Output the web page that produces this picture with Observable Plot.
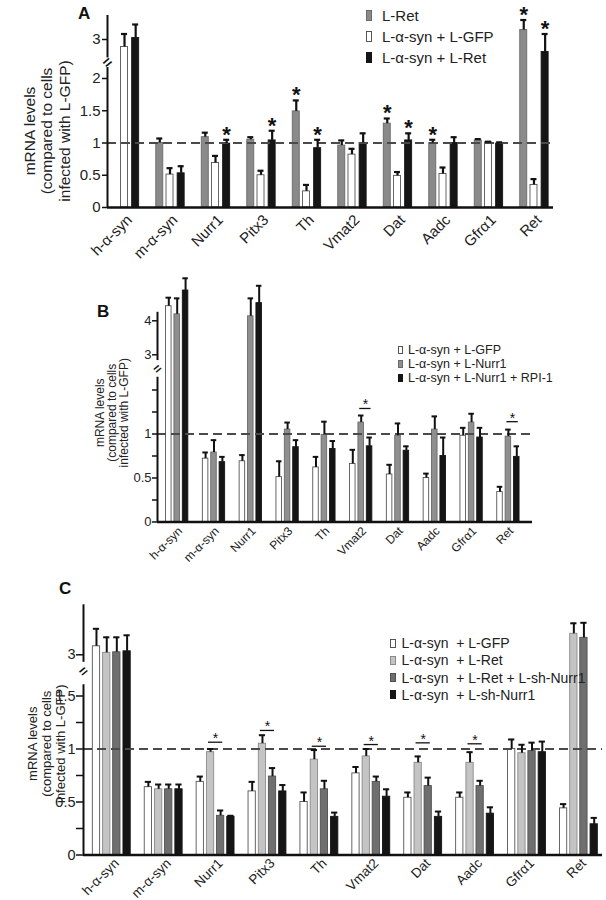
<!DOCTYPE html>
<html><head><meta charset="utf-8">
<script src="https://cdn.jsdelivr.net/npm/d3@7"></script>
<script src="https://cdn.jsdelivr.net/npm/@observablehq/plot@0.6"></script>
<style>
body{margin:0;background:#fff;font-family:"Liberation Sans",Arial,sans-serif;}
#root{position:relative;width:606px;height:900px;overflow:hidden;background:#fff;}
.panel{position:absolute;left:0;}
.panel svg{overflow:visible;}
.letter{position:absolute;font-weight:bold;line-height:1;color:#111;}
.legend{position:absolute;color:#222;white-space:pre;}
.legend .row{display:flex;align-items:center;}
.legend .sw{display:inline-block;box-sizing:border-box;}
</style></head><body><div id="root"></div>
<script>
const genes = ["h-α-syn","m-α-syn","Nurr1","Pitx3","Th","Vmat2","Dat","Aadc","Gfrα1","Ret"];
const yLabel = "mRNA levels\n(compared to cells\ninfected with L-GFP)";

// ---------- Panel A ----------
const seriesA = ["L-Ret", "L-α-syn + L-GFP", "L-α-syn + L-Ret"];
const aRetMean    = [null, 1.00, 1.09, 1.05, 1.49, 0.96, 1.30, 1.00, 1.04, 3.19];
const aRetSem     = [null, 0.07, 0.07, 0.04, 0.17, 0.08, 0.08, 0.05, 0.02, 0.20];
const aGfpMean    = [2.85, 0.51, 0.69, 0.50, 0.25, 0.82, 0.49, 0.52, 1.01, 0.35];
const aGfpSem     = [0.26, 0.10, 0.11, 0.07, 0.10, 0.09, 0.06, 0.10, 0.01, 0.09];
const aSynRetMean = [3.03, 0.53, 0.99, 1.04, 0.92, 1.00, 1.04, 1.00, 0.99, 2.75];
const aSynRetSem  = [0.27, 0.11, 0.06, 0.15, 0.13, 0.15, 0.11, 0.09, 0.02, 0.36];
const aStarsRet    = ["Th","Dat","Aadc","Ret"];
const aStarsSynRet = ["Nurr1","Pitx3","Th","Dat","Ret"];
const aTicks = [0, 0.5, 1, 1.5, 2, 3];

// ---------- Panel B ----------
const seriesB = ["L-α-syn + L-GFP", "L-α-syn + L-Nurr1", "L-α-syn + L-Nurr1 + RPI-1"];
const bGfpMean   = [4.43, 0.72, 0.69, 0.51, 0.62, 0.66, 0.54, 0.50, 0.98, 0.34];
const bGfpSem    = [0.25, 0.07, 0.07, 0.18, 0.12, 0.16, 0.11, 0.05, 0.09, 0.06];
const bNurrMean  = [4.19, 0.79, 4.13, 1.05, 0.99, 1.13, 0.98, 1.05, 1.13, 0.97];
const bNurrSem   = [0.47, 0.14, 0.53, 0.08, 0.15, 0.08, 0.14, 0.15, 0.10, 0.08];
const bRpiMean   = [4.89, 0.68, 4.52, 0.85, 0.83, 0.86, 0.81, 0.75, 0.96, 0.74];
const bRpiSem    = [0.36, 0.06, 0.51, 0.08, 0.09, 0.10, 0.05, 0.21, 0.11, 0.12];
const bSigGenes  = ["Vmat2","Ret"];
const bSigLevel  = [1.29, 1.14];
const bTicks = [0, 0.5, 1, 3, 4];
const bMinor = [0.25, 0.75, 1.25, 1.5];

// ---------- Panel C ----------
const seriesC = ["L-α-syn  + L-GFP", "L-α-syn  + L-Ret", "L-α-syn  + L-Ret + L-sh-Nurr1", "L-α-syn  + L-sh-Nurr1"];
const cGfpMean    = [3.17, 0.64, 0.69, 0.60, 0.50, 0.77, 0.54, 0.54, 1.00, 0.44];
const cGfpSem     = [0.35, 0.05, 0.05, 0.09, 0.09, 0.06, 0.05, 0.05, 0.09, 0.04];
const cRetMean    = [3.04, 0.62, 0.97, 1.05, 0.90, 0.93, 0.87, 0.87, 0.96, 3.42];
const cRetSem     = [0.31, 0.045, 0.03, 0.08, 0.09, 0.07, 0.06, 0.10, 0.08, 0.21];
const cRetShMean  = [3.05, 0.62, 0.37, 0.74, 0.62, 0.69, 0.65, 0.65, 0.98, 3.34];
const cRetShSem   = [0.30, 0.045, 0.05, 0.08, 0.08, 0.05, 0.08, 0.05, 0.08, 0.30];
const cShMean     = [3.07, 0.62, 0.36, 0.60, 0.36, 0.55, 0.36, 0.39, 0.97, 0.29];
const cShSem      = [0.32, 0.045, 0.01, 0.06, 0.04, 0.07, 0.05, 0.06, 0.10, 0.06];
const cSigGenes = ["Nurr1","Pitx3","Th","Vmat2","Dat","Aadc"];
const cSigLevel = [1.064, 1.175, 1.026, 1.042, 1.058, 1.049];
const cTicks = [0, 0.5, 1, 1.5, 3];
const cMinor = [0.25, 0.75, 1.25];

const FONT = "Liberation Sans, Arial, sans-serif";
const root = document.getElementById("root");

function panel(cfg) {
  const rows = [];
  cfg.means.forEach((m, k) => m.forEach((v, i) => {
    if (v == null) return;
    rows.push({i, k, x: i + cfg.offsets[k], v, top: v + cfg.sems[k][i]});
  }));
  const hw = cfg.barWidth / 2;
  const x0 = cfg.xDomain[0];
  const errs = rows.filter(d => d.top > d.v);
  const marks = [
    Plot.rectY(rows, {x1: d => d.x - hw, x2: d => d.x + hw, y1: 0, y2: "v",
      fill: d => cfg.fills[d.k], stroke: d => cfg.strokes[d.k], strokeWidth: 0.9}),
    Plot.ruleY([1], {stroke: "#4a4a4a", strokeWidth: 2, strokeDasharray: "9,5"}),
    Plot.ruleX(errs, {x: "x", y1: "v", y2: "top", stroke: "#111", strokeWidth: cfg.errW}),
    Plot.ruleY(errs, {y: "top", x1: d => d.x - cfg.cap, x2: d => d.x + cfg.cap, stroke: "#111", strokeWidth: cfg.errW}),
    Plot.ruleY([0], {stroke: "#111", strokeWidth: 2.5}),
    Plot.ruleX(cfg.axisSegs, {x: () => x0, y1: d => d[0], y2: d => d[1], stroke: "#111", strokeWidth: 2}),
    Plot.text([cfg.breakAt], {x: () => x0, y: d => d, text: () => "=", rotate: -40, fontSize: cfg.breakFont, fontWeight: "bold", fill: "#111"}),
    Plot.text([yLabel], {frameAnchor: "left", text: d => d, rotate: -90, textAnchor: "middle", lineAnchor: "middle",
      dx: cfg.ylabelDx, dy: cfg.ylabelDy, fontSize: cfg.ylabelFont, lineHeight: cfg.ylabelLH, fill: "#222"}),
    Plot.axisY({ticks: cfg.ticks, tickSize: cfg.tickSize, tickPadding: cfg.tickPadding, fontSize: cfg.tickFont,
      tickFormat: d => String(d), label: null, stroke: "#111", strokeWidth: 1.5, fill: "#222"}),
    Plot.text(genes, {x: (d, i) => i, y: () => 0, text: d => d, rotate: -45, textAnchor: "end",
      fontSize: cfg.labelFont, dx: cfg.labelDx, dy: cfg.labelDy, fill: "#222"})
  ];
  if (cfg.minor) marks.push(Plot.axisY({ticks: cfg.minor, tickSize: cfg.tickSize, tickFormat: () => "", label: null, stroke: "#111", strokeWidth: 1.5}));
  if (cfg.stars) {
    const starRows = [];
    cfg.stars.forEach(({k, list}) => list.forEach(g => {
      const r = rows.find(d => d.k === k && d.i === genes.indexOf(g));
      if (r) starRows.push(r);
    }));
    marks.push(Plot.text(starRows, {x: "x", y: "top", text: () => "*", fontSize: cfg.starFont, fontWeight: "bold", lineAnchor: "bottom", dy: cfg.starDy, fill: "#111"}));
  }
  if (cfg.sig) {
    const sigRows = cfg.sig.genes.map((g, j) => {
      const i = genes.indexOf(g);
      return {y: cfg.sig.levels[j], xa: i + cfg.offsets[cfg.sig.pair[0]], xb: i + cfg.offsets[cfg.sig.pair[1]]};
    });
    marks.push(Plot.ruleY(sigRows, {y: "y", x1: d => d.xa - 0.04, x2: d => d.xb + 0.04, stroke: "#111", strokeWidth: 1.3}));
    marks.push(Plot.text(sigRows, {x: d => (d.xa + d.xb) / 2, y: "y", text: () => "*", fontSize: cfg.sigFont, lineAnchor: "bottom", dy: cfg.sigDy, fill: "#111"}));
  }
  const svg = Plot.plot({
    width: 606, height: cfg.height,
    marginLeft: cfg.marginLeft, marginRight: cfg.marginRight, marginTop: cfg.marginTop, marginBottom: cfg.marginBottom,
    x: {type: "linear", domain: cfg.xDomain, axis: null},
    y: {type: "linear", domain: cfg.yDomain, range: cfg.yRange, axis: null, label: null},
    color: {type: "identity"},
    style: {fontFamily: FONT, background: "transparent", overflow: "visible"},
    marks
  });
  const div = document.createElement("div");
  div.className = "panel";
  div.style.top = cfg.top + "px";
  div.appendChild(svg);
  root.appendChild(div);
}

function letter(t, left, top, size) {
  const d = document.createElement("div");
  d.className = "letter";
  d.textContent = t;
  d.style.left = left + "px"; d.style.top = top + "px"; d.style.fontSize = size + "px";
  root.appendChild(d);
}

function legend(o) {
  const box = document.createElement("div");
  box.className = "legend";
  box.style.left = o.left + "px"; box.style.top = o.top + "px"; box.style.fontSize = o.font + "px";
  o.labels.forEach((lab, k) => {
    const row = document.createElement("div");
    row.className = "row";
    row.style.height = o.rowH + "px";
    const sw = document.createElement("span");
    sw.className = "sw";
    sw.style.width = o.swW + "px"; sw.style.height = o.swH + "px";
    sw.style.background = o.fills[k];
    sw.style.border = "1px solid " + o.strokes[k];
    sw.style.marginRight = o.gap + "px";
    const tx = document.createElement("span");
    tx.textContent = lab;
    row.appendChild(sw); row.appendChild(tx);
    box.appendChild(row);
  });
  root.appendChild(box);
}

// Panel A
const fillsA = ["#8a8a8a", "#ffffff", "#151515"];
const strokesA = ["#6a6a6a", "#555555", "#151515"];
panel({
  top: 0, height: 240, marginLeft: 107, marginRight: 53, marginTop: 14, marginBottom: 33,
  xDomain: [-0.374, 9.429], yDomain: [0, 2.2, 2.6, 3.5], yRange: [207, 65.1, 59, 14],
  means: [aRetMean, aGfpMean, aSynRetMean], sems: [aRetSem, aGfpSem, aSynRetSem],
  offsets: [-0.225, 0, 0.245], barWidth: 0.154, cap: 0.066, errW: 2.2,
  fills: fillsA, strokes: strokesA,
  axisSegs: [[0, 2.17], [2.63, 3.48]], breakAt: 2.4, breakFont: 15,
  ticks: aTicks, tickSize: 5, tickPadding: 2, tickFont: 15,
  labelFont: 15, labelDx: 5, labelDy: 10,
  ylabelDx: -61, ylabelDy: 20, ylabelFont: 15.5, ylabelLH: 1.13,
  stars: [{k: 0, list: aStarsRet}, {k: 2, list: aStarsSynRet}], starFont: 22, starDy: 2
});
letter("A", 78, 5, 17);
legend({left: 366, top: 4.4, rowH: 21.3, font: 15, swW: 6, swH: 11, gap: 10,
  labels: seriesA, fills: fillsA, strokes: strokesA});

// Panel B
const fillsB = ["#ffffff", "#8f8f8f", "#151515"];
const strokesB = ["#555555", "#6a6a6a", "#151515"];
panel({
  top: 240, height: 300, marginLeft: 157, marginRight: 74, marginTop: 71, marginBottom: 18.5,
  xDomain: [-0.535, 9.655], yDomain: [0, 1.7, 2.65, 5.4], yRange: [281.5, 131.9, 126.2, 32.7],
  means: [bGfpMean, bNurrMean, bRpiMean], sems: [bGfpSem, bNurrSem, bRpiSem],
  offsets: [-0.228, 0, 0.228], barWidth: 0.15, cap: 0.075, errW: 2,
  fills: fillsB, strokes: strokesB,
  axisSegs: [[0, 1.645], [2.83, 4.25]], breakAt: 2.3, breakFont: 13,
  ticks: bTicks, minor: bMinor, tickSize: 5, tickPadding: 1, tickFont: 13,
  labelFont: 12, labelDx: 3, labelDy: 7,
  ylabelDx: -45, ylabelDy: -4, ylabelFont: 12, ylabelLH: 1.0,
  sig: {genes: bSigGenes, levels: bSigLevel, pair: [1, 2]}, sigFont: 14, sigDy: 1
});
letter("B", 97, 303, 17);
legend({left: 398, top: 343, rowH: 13.85, font: 12.5, swW: 4.5, swH: 8, gap: 5.5,
  labels: seriesB, fills: fillsB, strokes: strokesB});

// Panel C
const fillsC = ["#ffffff", "#c4c4c4", "#6f6f6f", "#151515"];
const strokesC = ["#555555", "#8a8a8a", "#505050", "#151515"];
panel({
  top: 540, height: 360, marginLeft: 83, marginRight: 4, marginTop: 64, marginBottom: 45.5,
  xDomain: [-0.545, 9.455], yDomain: [0, 1.6, 2.7, 4.0], yRange: [314.5, 144.9, 129.3, 64.3],
  means: [cGfpMean, cRetMean, cRetShMean, cShMean], sems: [cGfpSem, cRetSem, cRetShSem, cShSem],
  offsets: [-0.295, -0.097, 0.097, 0.295], barWidth: 0.14, cap: 0.06, errW: 2,
  fills: fillsC, strokes: strokesC,
  axisSegs: [[0, 1.646], [2.85, 4.0]], breakAt: 2.58, breakFont: 14,
  ticks: cTicks, minor: cMinor, tickSize: 7, tickPadding: 1, tickFont: 14.5,
  labelFont: 13.5, labelDx: 5, labelDy: 6,
  ylabelDx: -37, ylabelDy: 14, ylabelFont: 13, ylabelLH: 1.08,
  sig: {genes: cSigGenes, levels: cSigLevel, pair: [1, 2]}, sigFont: 14, sigDy: 1
});
letter("C", 59, 580, 17);
legend({left: 390, top: 634.6, rowH: 17.2, font: 14, swW: 5.5, swH: 9, gap: 6,
  labels: seriesC, fills: fillsC, strokes: strokesC});
</script></body></html>
